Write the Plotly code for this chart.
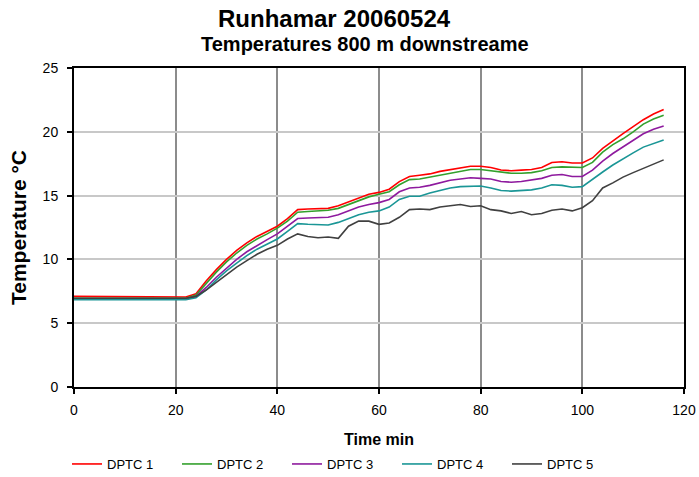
import plotly.graph_objects as go

time_min = list(range(0, 117, 2))

dptc1 = [7.1, 7.1, 7.05, 7.1, 7.1, 7.05, 7.1, 7.1, 7.05, 7.1, 7.05, 7.05,
         7.3, 8.3, 9.2, 10.0, 10.7, 11.3, 11.8, 12.2, 12.6, 13.2, 13.9, 13.95,
         14.0, 14.0, 14.2, 14.5, 14.8, 15.1, 15.25, 15.5, 16.1, 16.5, 16.6, 16.7,
         16.9, 17.05, 17.2, 17.3, 17.3, 17.2, 17.0, 16.95, 17.0, 17.05, 17.2, 17.6,
         17.65, 17.55, 17.55, 17.95, 18.7, 19.3, 19.85, 20.4, 20.95, 21.4, 21.75]
dptc2 = [6.95, 6.97, 6.95, 6.95, 6.97, 6.95, 6.95, 6.95, 6.97, 6.95, 6.95, 6.95,
         7.2, 8.1, 9.0, 9.8, 10.5, 11.1, 11.6, 12.0, 12.45, 13.0, 13.7, 13.75,
         13.8, 13.85, 14.0, 14.3, 14.6, 14.9, 15.1, 15.3, 15.85, 16.25, 16.3, 16.45,
         16.65, 16.8, 16.95, 17.05, 17.05, 16.95, 16.8, 16.75, 16.75, 16.8, 16.95, 17.2,
         17.25, 17.2, 17.2, 17.6, 18.4, 19.0, 19.45, 20.0, 20.6, 21.0, 21.3]
dptc3 = [6.9, 6.9, 6.9, 6.9, 6.9, 6.9, 6.9, 6.9, 6.9, 6.9, 6.9, 6.9,
         7.1, 7.8, 8.6, 9.3, 10.0, 10.6, 11.1, 11.55, 12.0, 12.6, 13.2, 13.25,
         13.3, 13.3, 13.5, 13.8, 14.1, 14.3, 14.45, 14.7, 15.3, 15.6, 15.65, 15.8,
         16.0, 16.2, 16.3, 16.4, 16.35, 16.3, 16.1, 16.05, 16.1, 16.2, 16.35, 16.6,
         16.65, 16.5, 16.5, 17.0, 17.7, 18.3, 18.8, 19.3, 19.85, 20.2, 20.45]
dptc4 = [6.85, 6.85, 6.85, 6.85, 6.85, 6.85, 6.85, 6.85, 6.85, 6.85, 6.85, 6.85,
         7.0, 7.6, 8.4, 9.1, 9.7, 10.3, 10.8, 11.2, 11.6, 12.2, 12.8, 12.75,
         12.7, 12.7, 12.9, 13.2, 13.5, 13.7, 13.8, 14.1, 14.7, 14.95, 14.95, 15.2,
         15.4, 15.6, 15.7, 15.75, 15.75, 15.6, 15.4, 15.35, 15.4, 15.45, 15.6, 15.85,
         15.8, 15.65, 15.7, 16.3, 16.85, 17.4, 17.9, 18.35, 18.8, 19.1, 19.35]
dptc5 = [6.95, 6.95, 6.93, 6.95, 6.95, 6.93, 6.95, 6.95, 6.93, 6.95, 6.95, 6.95,
         7.1, 7.6, 8.2, 8.8, 9.4, 9.9, 10.4, 10.8, 11.1, 11.6, 12.0, 11.8,
         11.7, 11.75, 11.65, 12.6, 13.0, 13.0, 12.75, 12.85, 13.3, 13.9, 13.95, 13.9,
         14.1, 14.2, 14.3, 14.15, 14.2, 13.9, 13.8, 13.6, 13.75, 13.5, 13.6, 13.85,
         13.95, 13.8, 14.05, 14.6, 15.6, 16.0, 16.45, 16.8, 17.15, 17.5, 17.8]

series_names = ["DPTC 1", "DPTC 2", "DPTC 3", "DPTC 4", "DPTC 5"]
series_values = [dptc1, dptc2, dptc3, dptc4, dptc5]
series_colors = ["#ff0000", "#33a02c", "#8e1a9e", "#1a9696", "#404040"]

x_ticks = [0, 20, 40, 60, 80, 100, 120]
y_ticks = [0, 5, 10, 15, 20, 25]

FONT = "Liberation Sans, Arial, sans-serif"
W, H = 699, 477
ML, MR, MT, MB = 74, 15, 68, 90
PW, PH = W - ML - MR, H - MT - MB


def px_x(px):
    return (px - ML) / PW


def px_y(py):
    return 1 + (MT - py) / PH


fig = go.Figure()
for name, vals, col in zip(series_names, series_values, series_colors):
    fig.add_trace(go.Scatter(x=time_min, y=vals, name=name, mode="lines",
                             line=dict(color=col, width=1.6)))

fig.update_layout(
    width=W, height=H,
    margin=dict(l=ML, r=MR, t=MT, b=MB, autoexpand=False),
    paper_bgcolor="white", plot_bgcolor="white",
    font=dict(family=FONT, color="black"),
    showlegend=True,
    legend=dict(orientation="h", x=px_x(67), xanchor="left", y=px_y(464), yanchor="middle",
                entrywidth=65, font=dict(size=13), itemwidth=30,
                bgcolor="rgba(0,0,0,0)"),
    annotations=[
        dict(text="<b>Runhamar 20060524</b>", x=px_x(334), y=px_y(18),
             xref="paper", yref="paper",
             showarrow=False, font=dict(size=24), xanchor="center", yanchor="middle"),
        dict(text="<b>Temperatures 800 m downstreame</b>", x=px_x(365), y=px_y(44),
             xref="paper", yref="paper",
             showarrow=False, font=dict(size=20), xanchor="center", yanchor="middle"),
    ],
)

fig.update_xaxes(range=[0, 120], tickvals=x_ticks, ticks="outside", ticklen=5,
                 tickcolor="black", tickwidth=1.5, ticklabelstandoff=4,
                 showgrid=True, gridcolor="#8c8c8c", gridwidth=1.5,
                 showline=True, linecolor="black", linewidth=2, mirror=True,
                 zeroline=False, tickfont=dict(size=14),
                 title=dict(text="<b>Time min</b>", font=dict(size=16), standoff=17))
fig.update_yaxes(range=[0, 25], tickvals=y_ticks, ticks="outside", ticklen=5,
                 tickcolor="black", tickwidth=1.5, ticklabelstandoff=6,
                 showgrid=True, gridcolor="#c8c8c8", gridwidth=1.5,
                 showline=True, linecolor="black", linewidth=2, mirror=True,
                 zeroline=False, tickfont=dict(size=14),
                 title=dict(text="<b>Temperature °C</b>", font=dict(size=21), standoff=10))

fig.write_html("out.html")
